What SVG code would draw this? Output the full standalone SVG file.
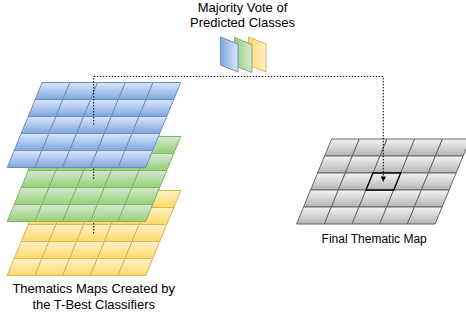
<svg xmlns="http://www.w3.org/2000/svg" width="466" height="320" viewBox="0 0 466 320">
<style>
text{font-family:"Liberation Sans",Arial,Helvetica,sans-serif;fill:#000;text-anchor:middle}
.t13{font-size:13px}
.t12{font-size:12px}
.edge{fill:none;stroke:#000;stroke-width:1;stroke-dasharray:1.5 1.5}
.blue{fill:url(#gBlue);stroke:#6c8ebf}
.green{fill:url(#gGreen);stroke:#82b366}
.yellow{fill:url(#gYellow);stroke:#d6b656}
.gray{fill:url(#gGray);stroke:#666}
.iblue{fill:url(#hBlue);stroke:#6c8ebf}
.igreen{fill:url(#hGreen);stroke:#82b366}
.iyellow{fill:url(#hYellow);stroke:#d6b656}
</style>
<defs>
<linearGradient id="gBlue" x1="0" y1="0" x2="0" y2="1"><stop offset="0" stop-color="#dae8fc"/><stop offset="1" stop-color="#7ea6e0"/></linearGradient>
<linearGradient id="gGreen" x1="0" y1="0" x2="0" y2="1"><stop offset="0" stop-color="#d5e8d4"/><stop offset="1" stop-color="#97d077"/></linearGradient>
<linearGradient id="gYellow" x1="0" y1="0" x2="0" y2="1"><stop offset="0" stop-color="#fff2cc"/><stop offset="1" stop-color="#ffd966"/></linearGradient>
<linearGradient id="gGray" x1="0" y1="0" x2="0" y2="1"><stop offset="0" stop-color="#f5f5f5"/><stop offset="1" stop-color="#b3b3b3"/></linearGradient>
<linearGradient id="hBlue" x1="0" y1="0" x2="1" y2="0"><stop offset="0" stop-color="#7ea6e0"/><stop offset="1" stop-color="#dae8fc"/></linearGradient>
<linearGradient id="hGreen" x1="0" y1="0" x2="1" y2="0"><stop offset="0" stop-color="#97d077"/><stop offset="1" stop-color="#d5e8d4"/></linearGradient>
<linearGradient id="hYellow" x1="0" y1="0" x2="1" y2="0"><stop offset="0" stop-color="#ffd966"/><stop offset="1" stop-color="#fff2cc"/></linearGradient>
<polygon id="cell" points="7,0 34.7,0 27.7,17 0,17"/>
<g id="row">
<use href="#cell" x="0"/><use href="#cell" x="27.7"/><use href="#cell" x="55.4"/><use href="#cell" x="83.1"/><use href="#cell" x="110.8"/>
</g>
<g id="grid">
<use href="#row" x="28" y="0"/><use href="#row" x="21" y="17"/><use href="#row" x="14" y="34"/><use href="#row" x="7" y="51"/><use href="#row" x="0" y="68"/>
</g>
</defs>

<g id="map-yellow"><use href="#grid" class="yellow" x="7.2" y="190.5"/></g>
<g id="map-green"><use href="#grid" class="green" x="7.2" y="136.5"/></g>
<g id="map-blue"><use href="#grid" class="blue" x="7.2" y="82.5"/></g>

<g id="final-map">
<use href="#grid" class="gray" x="296.6" y="139"/>
<use href="#cell" x="366" y="173" fill="url(#gGray)" stroke="#000" stroke-width="1.3"/>
</g>

<g id="vote-icon">
<polygon class="iyellow" points="248.5,37 266,44 266,72 248.5,65"/>
<polygon class="igreen" points="234.5,37.5 252,44.5 252,72.5 234.5,65.5"/>
<polygon class="iblue" points="220.5,37 238,44 238,72 220.5,65"/>
</g>

<g id="connectors">
<path class="edge" d="M93.7 233.5V221.5"/>
<path class="edge" d="M93.7 179V167.5"/>
<path class="edge" d="M93.7 124.5V76.5H383.3V177"/>
<polygon points="383.3,182 380.8,176.5 385.8,176.5" fill="#000"/>
</g>

<g id="labels">
<text class="t13" x="242.5" y="11.5">Majority Vote of</text>
<text class="t13" x="242.5" y="26.5">Predicted Classes</text>
<text class="t13" x="93.7" y="293.3">Thematics Maps Created by</text>
<text class="t13" x="93.7" y="308.5">the T-Best Classifiers</text>
<text class="t12" x="374.2" y="242.7">Final Thematic Map</text>
</g>
</svg>
